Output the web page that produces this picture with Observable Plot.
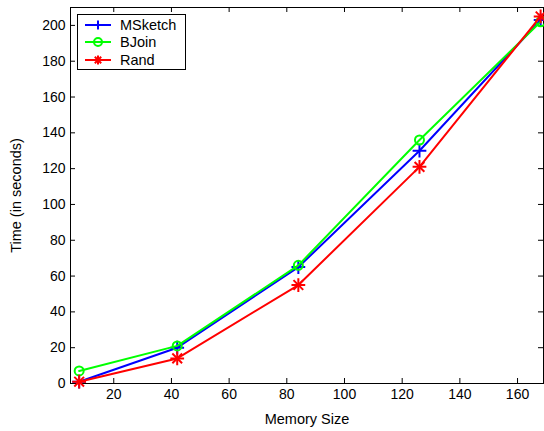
<!DOCTYPE html>
<html>
<head>
<meta charset="utf-8">
<script src="https://cdn.jsdelivr.net/npm/d3@7"></script>
<script src="https://cdn.jsdelivr.net/npm/@observablehq/plot@0.6"></script>
<style>
  html, body { margin: 0; padding: 0; background: #fff; }
  #wrap { position: relative; width: 544px; height: 431px; font-family: "Liberation Sans", Arial, sans-serif; }
  #legend { position: absolute; left: 77px; top: 14px; width: 107px; height: 54px; border: 1px solid #000; background: #fff; }
  .row { position: absolute; left: 0; height: 18px; display: flex; align-items: center; font-size: 14.5px; color: #000; }
  .row svg { display: block; }
</style>
</head>
<body>
<div id="wrap"></div>
<script>
const memorySize = [8, 42, 84, 126, 168];
const msketch = [1, 20, 65, 130, 203];
const bjoin = [7, 21, 66, 136, 202];
const rand = [1, 14, 55, 121, 205];
const seriesNames = ["MSketch", "BJoin", "Rand"];
const seriesColors = ["#0000ff", "#00ff00", "#ff0000"];
const xTicks = [20, 40, 60, 80, 100, 120, 140, 160];
const yTicks = [0, 20, 40, 60, 80, 100, 120, 140, 160, 180, 200];

const toRows = (vals, name) => memorySize.map((x, i) => ({x, y: vals[i], name}));
const rowsM = toRows(msketch, "MSketch");
const rowsB = toRows(bjoin, "BJoin");
const rowsR = toRows(rand, "Rand");

const W = 544, H = 431, mL = 70, mR = 1, mT = 7, mB = 48;
const innerH = H - mT - mB, innerW = W - mL - mR;
const tk = 5;

const chart = Plot.plot({
  width: W, height: H,
  marginLeft: mL, marginRight: mR, marginTop: mT, marginBottom: mB,
  style: {fontSize: "14px", fontFamily: "Liberation Sans, Arial, sans-serif", background: "#fff", color: "#000"},
  x: {domain: [5, 169], label: "Memory Size", labelAnchor: "center", labelArrow: "none"},
  y: {domain: [0, 210], label: "Time (in seconds)", labelAnchor: "center", labelArrow: "none"},
  marks: [
    Plot.frame({stroke: "#000", strokeWidth: 1}),
    Plot.tickX(xTicks, {x: d => d, insetTop: innerH - tk, stroke: "#000"}),
    Plot.tickX(xTicks, {x: d => d, insetBottom: innerH - tk, stroke: "#000"}),
    Plot.tickY(yTicks, {y: d => d, insetRight: innerW - tk, stroke: "#000"}),
    Plot.tickY(yTicks, {y: d => d, insetLeft: innerW - tk, stroke: "#000"}),
    Plot.axisX({ticks: xTicks, tickSize: 0, tickPadding: 6, label: null}),
    Plot.axisY({ticks: yTicks, tickSize: 0, tickPadding: 5, label: null}),
    Plot.axisX({ticks: [], tickSize: 0, label: "Memory Size", labelAnchor: "center", labelOffset: 40, labelArrow: "none", fontSize: 14.5}),
    Plot.axisY({ticks: [], tickSize: 0, label: "Time (in seconds)", labelAnchor: "center", labelOffset: 60, labelArrow: "none", fontSize: 14.5}),
    Plot.line(rowsM, {x: "x", y: "y", stroke: seriesColors[0], strokeWidth: 2}),
    Plot.dot(rowsM, {x: "x", y: "y", symbol: "plus", r: 4.5, stroke: seriesColors[0], strokeWidth: 2}),
    Plot.line(rowsB, {x: "x", y: "y", stroke: seriesColors[1], strokeWidth: 2}),
    Plot.dot(rowsB, {x: "x", y: "y", symbol: "circle", r: 4.5, fill: "none", stroke: seriesColors[1], strokeWidth: 2}),
    Plot.line(rowsR, {x: "x", y: "y", stroke: seriesColors[2], strokeWidth: 2}),
    Plot.dot(rowsR, {x: "x", y: "y", symbol: "plus", r: 4.5, stroke: seriesColors[2], strokeWidth: 2}),
    Plot.dot(rowsR, {x: "x", y: "y", symbol: "times", r: 4.5, stroke: seriesColors[2], strokeWidth: 2})
  ]
});
const wrap = document.getElementById("wrap");
wrap.appendChild(chart);

// legend
const legend = document.createElement("div");
legend.id = "legend";
const symbols = ["plus", "circle", "star"];
seriesNames.forEach((name, i) => {
  const row = document.createElement("div");
  row.className = "row";
  row.style.top = (0.5 + i * 17.8) + "px";
  const c = seriesColors[i];
  let marker = "";
  if (symbols[i] === "plus") marker = `<path d="M20,4.5V13.5M15.5,9H24.5" stroke="${c}" stroke-width="2"/>`;
  if (symbols[i] === "circle") marker = `<circle cx="20" cy="9" r="4" fill="none" stroke="${c}" stroke-width="2"/>`;
  if (symbols[i] === "star") marker = `<path d="M20,4.5V13.5M15.5,9H24.5M16.8,5.8L23.2,12.2M16.8,12.2L23.2,5.8" stroke="${c}" stroke-width="2"/>`;
  row.innerHTML = `<svg width="42" height="18"><line x1="7" x2="33" y1="9" y2="9" stroke="${c}" stroke-width="2"/>${marker}</svg><span>${name}</span>`;
  legend.appendChild(row);
});
wrap.appendChild(legend);
</script>
</body>
</html>
